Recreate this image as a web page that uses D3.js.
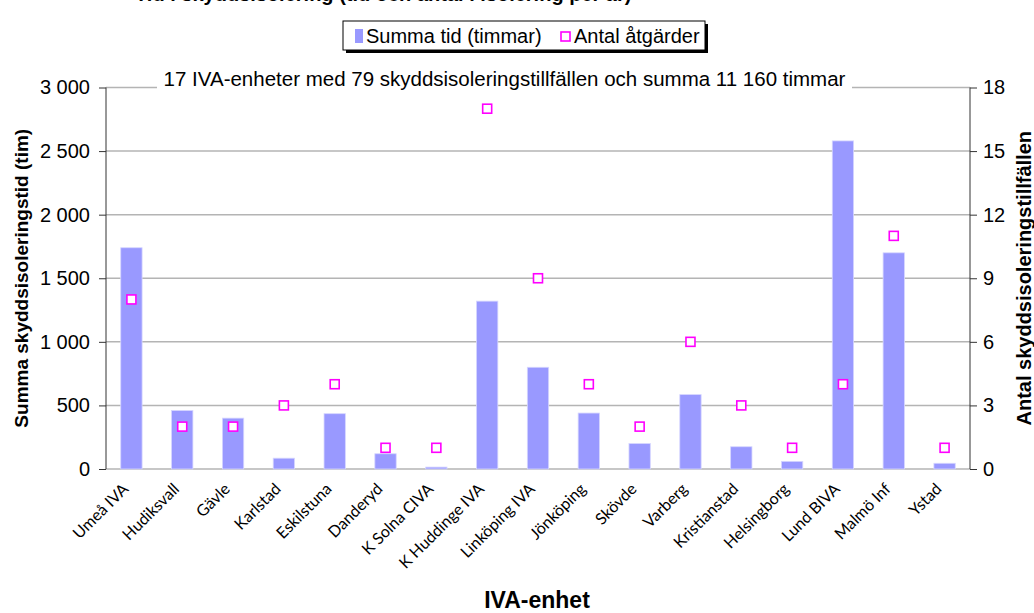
<!DOCTYPE html>
<html>
<head>
<meta charset="utf-8">
<script src="https://cdn.jsdelivr.net/npm/d3@7"></script>
<style>
  body { margin: 0; background: #fff; }
  svg { display: block; }
  text { font-family: "Liberation Sans", Arial, sans-serif; fill: #000; }
</style>
</head>
<body>
<svg id="chart" width="1034" height="613"></svg>
<script>
// Units and their isolation data
const categories = ["Umeå IVA", "Hudiksvall", "Gävle", "Karlstad", "Eskilstuna", "Danderyd",
  "K Solna CIVA", "K Huddinge IVA", "Linköping IVA", "Jönköping", "Skövde", "Varberg",
  "Kristianstad", "Helsingborg", "Lund BIVA", "Malmö Inf", "Ystad"];
const hours = [1740, 460, 400, 85, 435, 120, 15, 1320, 800, 440, 200, 585, 175, 60, 2580, 1700, 45];
const counts = [8, 2, 2, 3, 4, 1, 1, 17, 9, 4, 2, 6, 3, 1, 4, 11, 1];
const hourTicks = [0, 500, 1000, 1500, 2000, 2500, 3000];
const countTicks = [0, 3, 6, 9, 12, 15, 18];

const seriesNames = ["Summa tid (timmar)", "Antal åtgärder"];
const titleText = "Tid i skyddsisolering (tid och antal i isolering per år)";
const leftTitle = "Summa skyddsisoleringstid (tim)";
const rightTitle = "Antal skyddsisoleringstillfällen";
const xTitle = "IVA-enhet";

const svLocale = d3.formatLocale({ decimal: ",", thousands: "\u00a0", grouping: [3], currency: ["", " kr"] });
const fmt = svLocale.format(",d");

const svg = d3.select("#chart");
const plot = { left: 106, right: 970, top: 87.5, bottom: 469 };

const x = d3.scaleBand().domain(categories).range([plot.left, plot.right])
  .paddingInner(0.58).paddingOuter(0.29);
const yL = d3.scaleLinear().domain([0, 3000]).range([plot.bottom, plot.top]);
const yR = d3.scaleLinear().domain([0, 18]).range([plot.bottom, plot.top]);

// Horizontal gridlines
svg.append("g").selectAll("line").data(hourTicks).join("line")
  .attr("x1", plot.left).attr("x2", plot.right)
  .attr("y1", d => yL(d)).attr("y2", d => yL(d))
  .attr("stroke", "#b4b4b4").attr("stroke-width", 1.5);

// Summary note across the top of the plot
const note = `${categories.length} IVA-enheter med ${d3.sum(counts)} skyddsisoleringstillfällen och summa ${fmt(d3.sum(hours))} timmar`;
svg.append("rect").attr("x", 157).attr("y", 68).attr("width", 695).attr("height", 26).attr("fill", "#fff");
svg.append("text").attr("x", 504.5).attr("y", 86).attr("text-anchor", "middle")
  .style("font-size", "20.5px").text(note);

// Bars: total hours
svg.append("g").selectAll("rect").data(categories).join("rect")
  .attr("x", d => x(d)).attr("width", x.bandwidth())
  .attr("y", (d, i) => yL(hours[i])).attr("height", (d, i) => yL(0) - yL(hours[i]))
  .attr("fill", "#9999ff").attr("stroke", "#d6d6ff").attr("stroke-width", 0.8);

// Markers: number of occasions
const ms = 9;
svg.append("g").selectAll("rect").data(categories).join("rect")
  .attr("x", d => x(d) + x.bandwidth() / 2 - ms / 2)
  .attr("y", (d, i) => yR(counts[i]) - ms / 2)
  .attr("width", ms).attr("height", ms)
  .attr("fill", "#fff").attr("stroke", "#ff00ff").attr("stroke-width", 1.6);

// Left axis
const axL = svg.append("g").attr("transform", `translate(${plot.left},0)`)
  .call(d3.axisLeft(yL).tickValues(hourTicks).tickFormat(fmt).tickSize(7).tickPadding(9));
axL.select(".domain").attr("stroke", "#333").attr("d", `M0,${plot.top}V${plot.bottom}`);
axL.selectAll(".tick line").attr("stroke", "#333");
axL.selectAll("text").style("font-size", "20px").style("font-family", "'Liberation Sans', Arial, sans-serif").attr("fill", "#000");

// Right axis
const axR = svg.append("g").attr("transform", `translate(${plot.right},0)`)
  .call(d3.axisRight(yR).tickValues(countTicks).tickSize(7).tickPadding(6));
axR.select(".domain").attr("stroke", "#333").attr("d", `M0,${plot.top}V${plot.bottom}`);
axR.selectAll(".tick line").attr("stroke", "#333");
axR.selectAll("text").style("font-size", "20px").style("font-family", "'Liberation Sans', Arial, sans-serif").attr("fill", "#000");

// Category labels
svg.append("g").selectAll("text").data(categories).join("text")
  .attr("transform", d => `translate(${x(d) + x.bandwidth() / 2 - 2},${490}) rotate(-45)`)
  .attr("text-anchor", "end")
  .style("font-family", "Lato, 'Open Sans', sans-serif").style("font-size", "16px")
  .text(d => d);

// Axis titles
svg.append("text").attr("transform", `translate(28,${(plot.top + plot.bottom) / 2}) rotate(-90)`)
  .attr("text-anchor", "middle").style("font-size", "19px").style("font-weight", "bold").text(leftTitle);
svg.append("text").attr("transform", `translate(1031,${(plot.top + plot.bottom) / 2}) rotate(-90)`)
  .attr("text-anchor", "middle").style("font-size", "20px").style("font-weight", "bold").text(rightTitle);
svg.append("text").attr("x", 537).attr("y", 608).attr("text-anchor", "middle")
  .style("font-size", "23px").style("font-weight", "bold").text(xTitle);

// Chart title (runs off the top edge)
svg.append("text").attr("x", 135).attr("y", 0.5)
  .style("font-size", "20px").style("font-weight", "bold").text(titleText);

// Legend
const lg = svg.append("g").attr("transform", "translate(0,8)");
lg.append("rect").attr("x", 346).attr("y", 16).attr("width", 362).attr("height", 29).attr("fill", "#000");
lg.append("rect").attr("x", 343).attr("y", 13).attr("width", 362).attr("height", 29)
  .attr("fill", "#fff").attr("stroke", "#000").attr("stroke-width", 1);
lg.append("rect").attr("x", 355).attr("y", 21).attr("width", 8).attr("height", 14).attr("fill", "#9999ff");
lg.append("text").attr("x", 366).attr("y", 35).style("font-size", "20px").text(seriesNames[0]);
lg.append("rect").attr("x", 561).attr("y", 24).attr("width", 9).attr("height", 9)
  .attr("fill", "#fff").attr("stroke", "#ff00ff").attr("stroke-width", 1.6);
lg.append("text").attr("x", 574).attr("y", 35).style("font-size", "20px").text(seriesNames[1]);
</script>
</body>
</html>
